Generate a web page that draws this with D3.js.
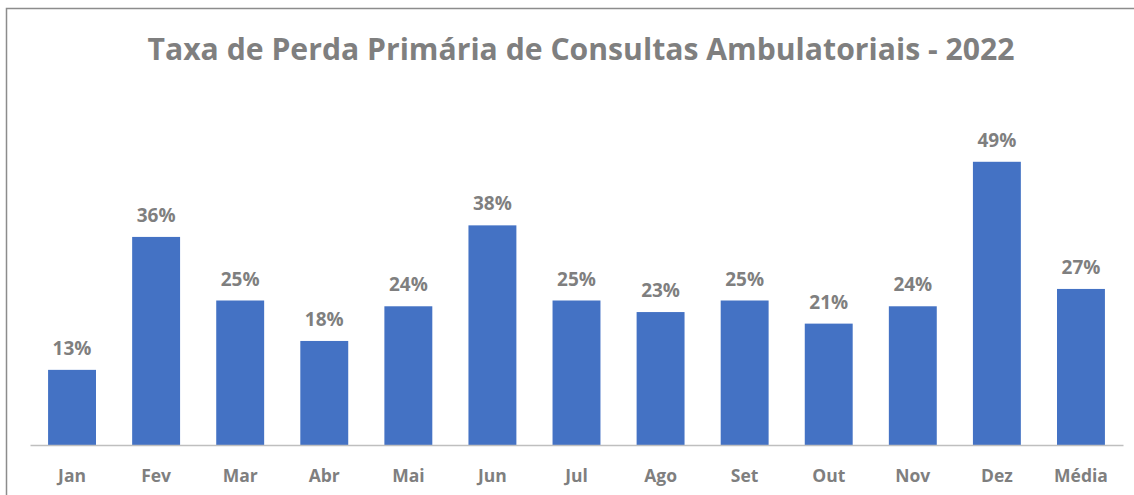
<!DOCTYPE html>
<html>
<head>
<meta charset="utf-8">
<script src="https://cdn.jsdelivr.net/npm/d3@7"></script>
<style>
  body { margin: 0; background: #fff; }
  svg { display: block; }
</style>
</head>
<body>
<svg width="1134" height="495"></svg>
<script>
const months = ["Jan", "Fev", "Mar", "Abr", "Mai", "Jun", "Jul", "Ago", "Set", "Out", "Nov", "Dez", "Média"];
const lossRate = [0.13, 0.36, 0.25, 0.18, 0.24, 0.38, 0.25, 0.23, 0.25, 0.21, 0.24, 0.49, 0.27];
const title = "Taxa de Perda Primária de Consultas Ambulatoriais - 2022";

const svg = d3.select("svg");
const fontFamily = "'Open Sans', 'Liberation Sans', sans-serif";
const grey = "#7f7f7f";

// chart frame (top and left edges visible)
svg.append("path")
  .attr("d", "M6.5,600 V8.5 H1140")
  .attr("fill", "none")
  .attr("stroke", "#8c8c8c")
  .attr("stroke-width", 1.5);

const x = d3.scaleBand()
  .domain(months)
  .range([30, 1123])
  .paddingInner(0.43)
  .paddingOuter(0.215);

const y = d3.scaleLinear()
  .domain([0, 0.5])
  .range([445, 156]);

svg.append("text")
  .attr("x", 581)
  .attr("y", 60)
  .attr("text-anchor", "middle")
  .attr("font-family", fontFamily)
  .attr("font-weight", "bold")
  .attr("font-size", "31px")
  .attr("fill", grey)
  .attr("textLength", 867)
  .attr("lengthAdjust", "spacingAndGlyphs")
  .text(title);

svg.selectAll("rect.bar")
  .data(lossRate)
  .enter()
  .append("rect")
  .attr("class", "bar")
  .attr("x", (d, i) => x(months[i]))
  .attr("y", (d) => y(d))
  .attr("width", x.bandwidth())
  .attr("height", (d) => y(0) - y(d))
  .attr("fill", "#4472c4");

svg.selectAll("text.value")
  .data(lossRate)
  .enter()
  .append("text")
  .attr("class", "value")
  .attr("x", (d, i) => x(months[i]) + x.bandwidth() / 2)
  .attr("y", (d) => y(d) - 15)
  .attr("text-anchor", "middle")
  .attr("font-family", fontFamily)
  .attr("font-weight", "bold")
  .attr("font-size", "19px")
  .attr("fill", grey)
  .text(d3.format(".0%"));

const xAxis = svg.append("g")
  .attr("transform", `translate(0,${y(0)})`)
  .call(d3.axisBottom(x).tickSize(0).tickPadding(37).tickSizeOuter(0));

xAxis.select(".domain")
  .attr("stroke", "#bfbfbf")
  .attr("stroke-width", 1.5);

xAxis.selectAll("text")
  .attr("font-family", fontFamily)
  .attr("font-weight", "bold")
  .attr("font-size", "17.5px")
  .attr("fill", grey)
  .attr("dy", "0");
</script>
</body>
</html>
